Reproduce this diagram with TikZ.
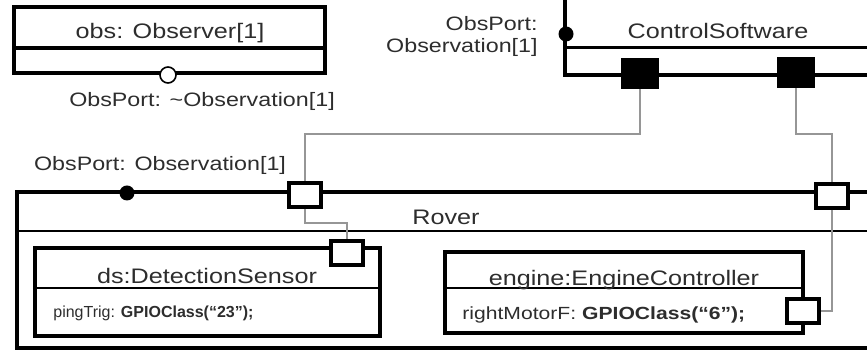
\documentclass[tikz,border=0pt]{standalone}
\usepackage{fontspec}
\setmainfont[FakeStretch=1.2]{Liberation Sans}
\newfontfamily\narrowsans{Liberation Sans}
\usepackage{tikz}
\usetikzlibrary{positioning, calc}
\usepackage{xcolor}
\definecolor{ink}{RGB}{45,45,45}
\definecolor{wiregray}{RGB}{150,150,150}

\begin{document}
\begin{tikzpicture}[x=0.5pt, y=-0.5pt,
  frame/.style={draw=black, line width=2pt},
  divider/.style={draw=black, line width=1pt},
  wire/.style={draw=wiregray, line width=0.7pt},
  title/.style={text=ink, inner sep=0pt, font=\fontsize{10.5}{12}\selectfont},
  attr/.style={text=ink, inner sep=0pt, anchor=west, font=\narrowsans\fontsize{8}{9}\selectfont},
  plabel/.style={text=ink, inner sep=0pt, font=\fontsize{9.7}{11}\selectfont},
  portbox/.style={draw=black, fill=white, line width=2pt, minimum width=16pt, minimum height=12pt, inner sep=0pt},
  portsolid/.style={draw=black, fill=black, line width=2pt, minimum width=17pt, minimum height=13.5pt, inner sep=0pt},
  dotport/.style={circle, fill=black, minimum size=7.5pt, inner sep=0pt},
  openport/.style={circle, draw=black, fill=white, line width=0.8pt, minimum size=8pt, inner sep=0pt}]
  \useasboundingbox (0,0) rectangle (867,351);

  % Observer part
  \draw[frame] (14,7) rectangle (325,73);
  \draw[frame] (14,48) -- (325,48);
  \node[title] (obsname) at (170,33) {obs: Observer[1]};

  % ControlSoftware part
  \draw[frame] (565,-10) rectangle (900,75);
  \draw[frame, line width=1.5pt] (565,48) -- (900,48);
  \node[title] (ctrlname) at (718,31) {ControlSoftware};

  % Rover and its inner parts
  \draw[frame] (17,192) rectangle (900,348);
  \draw[divider] (17,231) -- (900,231);
  \node[title] (rovername) at (446,217) {Rover};

  \draw[frame] (35,248) rectangle (380,336);
  \draw[divider] (35,288) -- (380,288);
  \node[title] (dsname) at (207,276) {ds:DetectionSensor};
  \node[attr] (dsattr) at (53,313) {pingTrig: \textbf{GPIOClass(“23”);}};

  \draw[frame] (445,252) rectangle (803,333);
  \draw[divider] (445,288) -- (803,288);
  \node[title] (engname) at (624,280) {engine:EngineController};
  \node[attr, font=\fontsize{8.8}{10}\selectfont] (engattr) at (462,315) {rightMotorF: \textbf{GPIOClass(“6”);}};

  % ports
  \node[portsolid] (cs1) at (640,74) {};
  \node[portsolid] (cs2) at (796,73) {};
  \node[portbox] (rp1) at (305,195) {};
  \node[portbox] (rp2) at (832,196) {};
  \node[portbox] (dsp) at (347,253) {};
  \node[portbox] (ep) at (803,311) {};

  % connectors
  \coordinate (bendA) at (0,134);
  \coordinate (bendB) at (0,223);
  \draw[wire] (cs1.south) -- (cs1.south |- bendA) -| (rp1.north);
  \draw[wire] (cs2.south) -- (cs2.south |- bendA) -| (rp2.north);
  \draw[wire] (rp1.south) -- (rp1.south |- bendB) -| (dsp.north);
  \draw[wire] (rp2.south) |- (ep.east);

  % observation ports
  \node[openport] (obsport) at (168,75) {};
  \node[dotport] (ctrlport) at (566,34) {};
  \node[dotport] (roverport) at (127,193) {};
  \node[plabel] (obsportlbl) at (202,101) {ObsPort: \textasciitilde Observation[1]};
  \node[plabel, align=right, anchor=east] (ctrlportlbl) at (538,36) {ObsPort:\\Observation[1]};
  \node[plabel] (roverportlbl) at (160,165) {ObsPort: Observation[1]};
\end{tikzpicture}
\end{document}
